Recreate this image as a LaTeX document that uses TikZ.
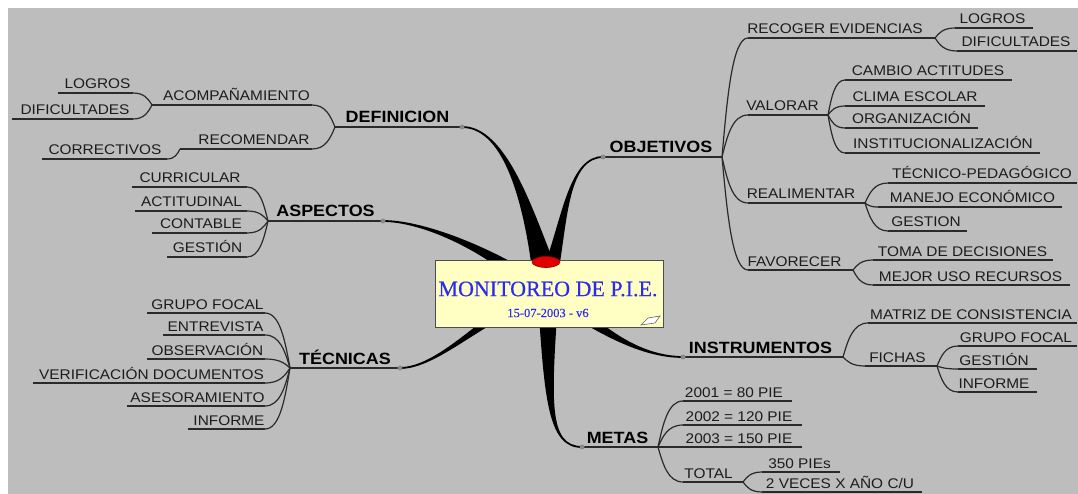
\documentclass[tikz,border=0pt]{standalone}
\usepackage{fontspec}
\usetikzlibrary{calc}
\newfontfamily\mmsans[FakeStretch=1.1]{Liberation Sans}
\newfontfamily\mmserif[FakeBold=0.4]{Liberation Serif}
\definecolor{mmbg}{HTML}{BDBDBD}
\definecolor{mmline}{HTML}{2A2A2A}
\definecolor{mmtext}{HTML}{1C1C1C}
\definecolor{mmnote}{HTML}{FFFFC4}
\definecolor{mmblue}{HTML}{2B2BF0}
\definecolor{mmred}{HTML}{E00000}
\definecolor{mmdot}{HTML}{8A8A8A}

\tikzset{
  uline/.style={draw=mmline, line width=1.2pt},
  lbl/.style={font=\mmsans\fontsize{14}{16}\selectfont, text=mmtext, anchor=base, inner sep=0pt},
  mainlbl/.style={font=\mmsans\bfseries\fontsize{16.3}{18}\selectfont, text=black},
  branch/.style={fill=black},
  enddot/.style={fill=mmdot},
  corebox/.style={draw=black!70, fill=mmnote, line width=0.9pt, minimum width=228pt, minimum height=67pt, inner sep=0pt},
}

% a label sitting on its underline: style, name, x from, x to, y of the line, text centre x, text
\newcommand\mmlabel[7][]{%
  \coordinate (#2-a) at (#3,#5);
  \coordinate (#2-b) at (#4,#5);
  \draw[uline] (#2-a) -- (#2-b);
  \node[lbl,#1] (#2) at (#6,#5-4) {#7};}

% thin curved connector from a fan point to a child's underline
\newcommand\mmlink[2]{%
  \draw[uline] let \p1=(#1), \p2=(#2) in
    (\p1) .. controls ({\x1+0.2*(\x2-\x1)},{\y1+0.5*(\y2-\y1)}) and ({\x1+0.4*(\x2-\x1)},\y2) .. (\p2);}

% tapered main branch: hub, control, control, end, half width at the hub
\newcommand\mmbranch[5]{%
  \fill[branch] let \p1=(#1), \p2=(#2), \p3=(#3), \p4=(#4),
    \n1={atan2(\y2-\y1,\x2-\x1)}, \n2={atan2(\y4-\y3,\x4-\x3)} in
    ($(\p1)+({\n1+90}:#5)$) .. controls ($(\p2)+({\n1+90}:0.35*#5)$) and ($(\p3)+({\n2+90}:0.9pt)$) .. ($(\p4)+({\n2+90}:0.9pt)$)
    -- ($(\p4)+({\n2-90}:0.9pt)$) .. controls ($(\p3)+({\n2-90}:0.9pt)$) and ($(\p2)+({\n1-90}:0.35*#5)$) .. ($(\p1)+({\n1-90}:#5)$) -- cycle;}

\begin{document}
\begin{tikzpicture}[x=1pt, y=-1pt]
\useasboundingbox (0,0) rectangle (1078,494);
\fill[white] (0,0) rectangle (1078,494);
\fill[mmbg] (8,8) rectangle (1078,494);

% ---------- left side ----------
\mmlabel[mainlbl]{def}{335}{462}{127}{397.5}{DEFINICION}
\mmlabel{acom}{152}{312}{105}{236.5}{ACOMPAÑAMIENTO}
\mmlabel{logA}{58}{133}{93}{97.5}{LOGROS}
\mmlabel{difA}{12}{133}{119}{75}{DIFICULTADES}
\mmlabel{recom}{180}{312}{149}{254}{RECOMENDAR}
\mmlabel{corr}{42}{167}{159}{105}{CORRECTIVOS}

\mmlabel[mainlbl]{asp}{268}{383}{221}{325.5}{ASPECTOS}
\mmlabel{cur}{132}{247}{187}{190}{CURRICULAR}
\mmlabel{act}{135}{247}{211}{191.5}{ACTITUDINAL}
\mmlabel{cont}{152}{247}{233}{201}{CONTABLE}
\mmlabel{gesA}{167}{247}{257}{207.5}{GESTIÓN}

\mmlabel[mainlbl]{tec}{290}{400}{368}{345}{TÉCNICAS}
\mmlabel{gf}{147}{265}{313}{207.5}{GRUPO FOCAL}
\mmlabel{ent}{163}{265}{335}{215.5}{ENTREVISTA}
\mmlabel{obs}{147}{265}{359}{207.5}{OBSERVACIÓN}
\mmlabel{ver}{33}{265}{383}{151.5}{VERIFICACIÓN DOCUMENTOS}
\mmlabel{ase}{127}{265}{406}{197.5}{ASESORAMIENTO}
\mmlabel{infT}{188}{265}{429}{229}{INFORME}

% ---------- right side ----------
\mmlabel[mainlbl]{obj}{603}{722}{157}{661}{OBJETIVOS}
\mmlabel{recog}{748}{935}{38}{835}{RECOGER EVIDENCIAS}
\mmlabel{logR}{955}{1033}{28}{992.5}{LOGROS}
\mmlabel{difR}{957}{1077}{51}{1016}{DIFICULTADES}
\mmlabel{val}{748}{828}{115}{782.5}{VALORAR}
\mmlabel{camb}{845}{1012}{80}{928}{CAMBIO ACTITUDES}
\mmlabel{clima}{845}{985}{106}{915}{CLIMA ESCOLAR}
\mmlabel{org}{845}{978}{128}{911.5}{ORGANIZACIÓN}
\mmlabel{inst}{845}{1040}{153}{943}{INSTITUCIONALIZACIÓN}
\mmlabel{real}{748}{865}{203}{801}{REALIMENTAR}
\mmlabel{tp}{888}{1077}{183}{982}{TÉCNICO-PEDAGÓGICO}
\mmlabel{man}{878}{1062}{207}{972.5}{MANEJO ECONÓMICO}
\mmlabel{gesR}{888}{967}{231}{926}{GESTION}
\mmlabel{fav}{748}{853}{270}{794.5}{FAVORECER}
\mmlabel{toma}{873}{1053}{260}{962.5}{TOMA DE DECISIONES}
\mmlabel{mejor}{873}{1070}{285}{970.5}{MEJOR USO RECURSOS}

\mmlabel[mainlbl]{ins}{683}{843}{357}{760.5}{INSTRUMENTOS}
\mmlabel{mat}{868}{1077}{323}{971}{MATRIZ DE CONSISTENCIA}
\mmlabel{fich}{865}{937}{366}{897.5}{FICHAS}
\mmlabel{gfR}{958}{1077}{346}{1016}{GRUPO FOCAL}
\mmlabel{gesI}{958}{1037}{369}{994}{GESTIÓN}
\mmlabel{infI}{958}{1037}{392}{994}{INFORME}

\mmlabel[mainlbl]{metas}{582}{658}{447}{617.5}{METAS}
\mmlabel{y1}{683}{792}{401}{734}{2001 = 80 PIE}
\mmlabel{y2}{683}{802}{425}{739}{2002 = 120 PIE}
\mmlabel{y3}{683}{802}{447}{739}{2003 = 150 PIE}
\mmlabel{tot}{683}{743}{482}{708.5}{TOTAL}
\mmlabel{p350}{762}{840}{472}{799.5}{350 PIEs}
\mmlabel{dos}{762}{922}{492}{840}{2 VECES X AÑO C/U}

% ---------- thin connectors ----------
\mmlink{def-a}{acom-b}  \mmlink{def-a}{recom-b}
\mmlink{acom-a}{logA-b} \mmlink{acom-a}{difA-b}
\mmlink{recom-a}{corr-b}
\foreach \c in {cur,act,cont,gesA} {\mmlink{asp-a}{\c-b}}
\foreach \c in {gf,ent,obs,ver,ase,infT} {\mmlink{tec-a}{\c-b}}
\foreach \c in {recog,val,real,fav} {\mmlink{obj-b}{\c-a}}
\foreach \c in {logR,difR} {\mmlink{recog-b}{\c-a}}
\foreach \c in {camb,clima,org,inst} {\mmlink{val-b}{\c-a}}
\foreach \c in {tp,man,gesR} {\mmlink{real-b}{\c-a}}
\foreach \c in {toma,mejor} {\mmlink{fav-b}{\c-a}}
\foreach \c in {mat,fich} {\mmlink{ins-b}{\c-a}}
\foreach \c in {gfR,gesI,infI} {\mmlink{fich-b}{\c-a}}
\foreach \c in {y1,y2,y3,tot} {\mmlink{metas-b}{\c-a}}
\foreach \c in {p350,dos} {\mmlink{tot-b}{\c-a}}

% ---------- thick branches from the centre ----------
\mmbranch{542,262}{527,205}{505,127}{def-b}{11pt}
\mmbranch{553,262}{565,215}{570,157}{obj-a}{7pt}
\mmbranch{530,282}{480,245}{420,221}{asp-b}{8pt}
\mmbranch{530,300}{490,310}{440,368}{tec-b}{9pt}
\mmbranch{562,300}{600,330}{640,357}{ins-a}{9pt}
\mmbranch{548,300}{548,400}{548,447}{metas-a}{10pt}
\foreach \e in {def-b,obj-a,asp-b,tec-b,ins-a,metas-a} {\fill[enddot] (\e) circle (2.5pt);}

% ---------- central topic ----------
\node[corebox] (core) at (549,293.5) {};
\node[inner sep=0pt, text=mmblue, font=\mmserif\fontsize{22}{25}\selectfont] (title) at (548,289) {MONITOREO DE P.I.E.};
\node[inner sep=0pt, text=mmblue, font=\mmserif\fontsize{12.5}{14}\selectfont] (date) at (548,313) {15-07-2003 - v6};
\filldraw[fill=white, draw=black!60, line width=0.6pt] (641,325) -- (648,318) -- (660,316) -- (655,323) -- cycle;
\filldraw[fill=mmred, draw=red!60!black, line width=0.6pt] (546,262) ellipse [x radius=14pt, y radius=5.5pt];
\end{tikzpicture}
\end{document}
